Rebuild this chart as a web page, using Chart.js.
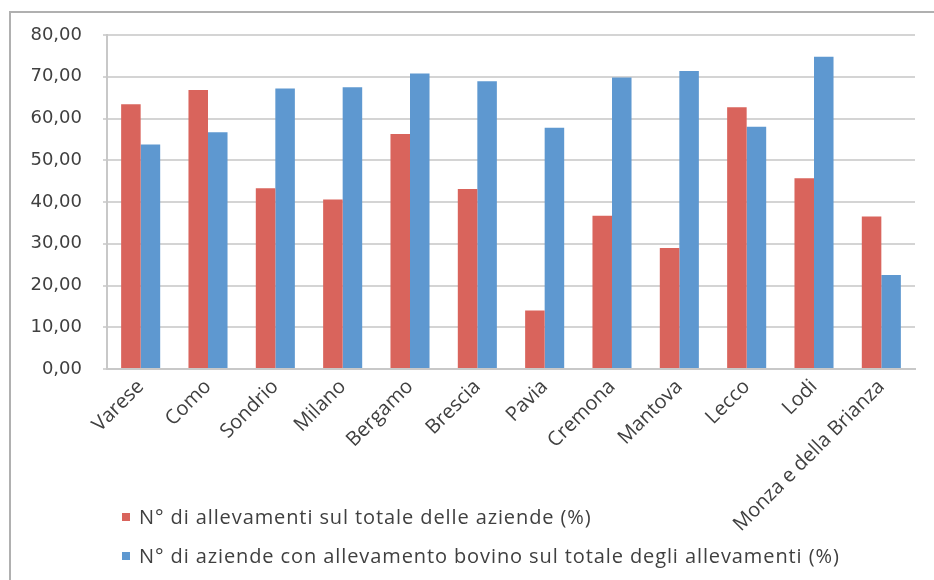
<!DOCTYPE html>
<html>
<head>
<meta charset="utf-8">
<script src="https://cdn.jsdelivr.net/npm/chart.js@4"></script>
<style>
  body { margin: 0; background: #fff; }
  #wrap { position: relative; width: 934px; height: 580px; overflow: hidden; }
  #frame { position: absolute; left: 9px; top: 11px; width: 1000px; height: 700px;
           border-left: 2px solid #b0b0b0; border-top: 2px solid #b0b0b0; }
  #legend { position: absolute; left: 122px; top: 503px; font-family: "Open Sans", sans-serif;
            font-size: 20px; letter-spacing: 0.9px; color: #404040; }
  #legend div { height: 39px; line-height: 28px; white-space: nowrap; }
  #legend span { display: inline-block; width: 8px; height: 8px; margin-right: 9px; vertical-align: 3px; }
  canvas { position: absolute; left: 0; top: 0; }
</style>
</head>
<body>
<div id="wrap">
  <div id="frame"></div>
  <canvas id="myChart" width="934" height="580"></canvas>
  <div id="legend"></div>
</div>
<script>
var provinces = ['Varese', 'Como', 'Sondrio', 'Milano', 'Bergamo', 'Brescia', 'Pavia',
                 'Cremona', 'Mantova', 'Lecco', 'Lodi', 'Monza e della Brianza'];
var allevamenti = [63.4, 66.8, 43.3, 40.6, 56.3, 43.1, 14.0, 36.7, 29.0, 62.7, 45.7, 36.5];
var bovini = [53.8, 56.7, 67.2, 67.5, 70.8, 68.9, 57.8, 69.8, 71.4, 58.0, 74.8, 22.5];
var yTicks = [0, 10, 20, 30, 40, 50, 60, 70, 80];

var seriesNames = ['N° di allevamenti sul totale delle aziende (%)',
                   'N° di aziende con allevamento bovino sul totale degli allevamenti (%)'];
var colors = ['#d9645c', '#5e98d0'];

var ctx = document.getElementById('myChart');
var myChart = new Chart(ctx, {
    type: 'bar',
    data: {
        labels: provinces,
        datasets: [
            { label: seriesNames[0], data: allevamenti, backgroundColor: colors[0] },
            { label: seriesNames[1], data: bovini, backgroundColor: colors[1] }
        ]
    },
    options: {
        responsive: false,
        devicePixelRatio: 1,
        animation: false,
        layout: { padding: { left: 0, top: 35, right: 19, bottom: 0 } },
        plugins: { legend: { display: false }, tooltip: { enabled: false } },
        datasets: { bar: { categoryPercentage: 0.58, barPercentage: 1 } },
        scales: {
            x: {
                grid: { display: false, drawTicks: false },
                border: { color: '#c8c8c8', width: 2 },
                ticks: {
                    autoSkip: false, minRotation: 45, maxRotation: 45, padding: 6,
                    color: '#404040', font: { family: 'Open Sans', size: 20 }
                },
                afterFit: function(s) { s.height = 211; }
            },
            y: {
                min: 0, max: 80,
                grid: { color: '#d4d4d4', lineWidth: 2, tickLength: 4 },
                border: { color: '#c8c8c8', width: 2 },
                afterBuildTicks: function(s) {
                    s.ticks = yTicks.map(function(v) { return { value: v }; });
                },
                ticks: {
                    padding: 21, color: '#404040',
                    font: { family: 'DejaVu Sans', size: 18 },
                    callback: function(v) { return v.toFixed(2).replace('.', ','); }
                },
                afterFit: function(s) { s.width = 107; }
            }
        }
    }
});

var legend = document.getElementById('legend');
myChart.data.datasets.forEach(function(ds) {
    var row = document.createElement('div');
    var box = document.createElement('span');
    box.style.background = ds.backgroundColor;
    row.appendChild(box);
    row.appendChild(document.createTextNode(ds.label));
    legend.appendChild(row);
});
</script>
</body>
</html>
